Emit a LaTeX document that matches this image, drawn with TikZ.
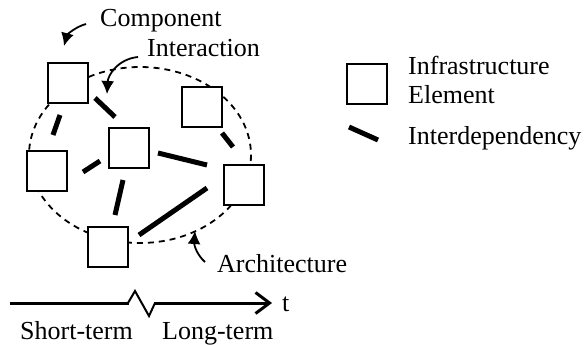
\documentclass[tikz,border=0pt]{standalone}
\usepackage{fontspec}
\setmainfont{Liberation Serif}
\usetikzlibrary{arrows.meta}
\begin{document}
\begin{tikzpicture}[x=1pt,y=-1pt,
  elem/.style={draw,line width=1.8pt,fill=white,minimum size=40pt,inner sep=0pt},
  dep/.style={line width=5pt},
  arch/.style={line width=1.8pt,dash pattern=on 6pt off 5pt},
  callout/.style={line width=1.8pt,-{Latex[length=13pt,width=13pt]}},
  lbl/.style={inner sep=0pt,anchor=base west,font=\fontsize{26}{30}\selectfont}]
\useasboundingbox (0,0) rectangle (587,345);
% architecture boundary
\draw[arch] (140,155) ellipse [x radius=111, y radius=88];
% elements
\node[elem] (A) at (68,83) {};
\node[elem] (B) at (129,148) {};
\node[elem] (C) at (202,107) {};
\node[elem] (D) at (47,171) {};
\node[elem] (E) at (244,185) {};
\node[elem] (F) at (108,247) {};
% interdependencies
\draw[dep] (95,98) -- (115,117);
\draw[dep] (60,115) -- (53,135);
\draw[dep] (83,172) -- (100,161);
\draw[dep] (158,153) -- (207,165);
\draw[dep] (222,133) -- (233,147);
\draw[dep] (123,180) -- (115,215);
\draw[dep] (139,235) -- (207,188);
% labels
\node[lbl] (comp) at (100,27) {Component};
\node[lbl] (inter) at (147,57) {Interaction};
\node[lbl] (archl) at (217,272) {Architecture};
\draw[callout] (86,24) .. controls (75,27) and (67,35) .. (64,46);
\draw[callout] (138,57) .. controls (118,59) and (108,75) .. (107,94);
\draw[callout] (205,262) .. controls (197,255) and (194,245) .. (195,231);
% legend
\node[elem] (L) at (367,84) {};
\node[lbl] (inf) at (408,75) {Infrastructure};
\node[lbl] (ele) at (408,103) {Element};
\draw[dep] (349,127) -- (378,140);
\node[lbl] (idep) at (408,145) {Interdependency};
% time axis
\draw[line width=3pt] (10,303) -- (129,303);
\draw[line width=2pt,line join=miter] (128,303) -- (135,291) -- (149,316) -- (155,303);
\draw[line width=3pt,-{Straight Barb[length=14pt,width=21pt,line width=3pt]}] (154,303) -- (272,303);
\node[lbl] (t) at (282,311) {t};
\node[lbl] (st) at (20,339) {Short-term};
\node[lbl] (lt) at (162,339) {Long-term};
\end{tikzpicture}
\end{document}
